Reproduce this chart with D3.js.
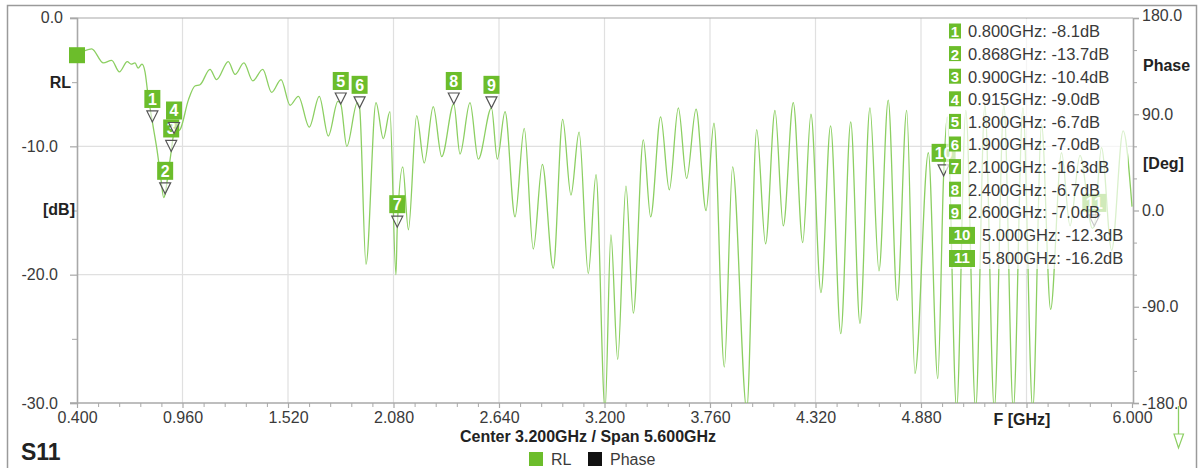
<!DOCTYPE html>
<html>
<head>
<meta charset="utf-8">
<script src="https://cdn.jsdelivr.net/npm/d3@7"></script>
<style>
  body { margin: 0; background: #fff; }
  svg text { font-family: "Liberation Sans", Arial, sans-serif; }
</style>
</head>
<body>
<svg id="chart" width="1200" height="468"></svg>
<script>
// S11 return-loss sweep, 0.4 - 6.0 GHz
const freqGHz = [
  0.400, 0.478, 0.540, 0.584, 0.625, 0.667, 0.687, 0.708, 0.724, 0.745,
  0.761, 0.777, 0.800, 0.825, 0.846, 0.860, 0.868, 0.883, 0.900, 0.915,
  0.947, 0.991, 1.026, 1.053, 1.106, 1.141, 1.203, 1.239, 1.286, 1.333,
  1.386, 1.433, 1.483, 1.531, 1.575, 1.633, 1.686, 1.734, 1.785, 1.800,
  1.832, 1.888, 1.900, 1.934, 1.987, 2.026, 2.061, 2.093, 2.100, 2.129,
  2.159, 2.203, 2.243, 2.291, 2.336, 2.400, 2.433, 2.486, 2.530, 2.600,
  2.631, 2.672, 2.725, 2.774, 2.822, 2.870, 2.928, 2.978, 3.022, 3.065,
  3.114, 3.155, 3.203, 3.234, 3.270, 3.314, 3.353, 3.406, 3.445, 3.498,
  3.544, 3.592, 3.636, 3.686, 3.739, 3.781, 3.836, 3.880, 3.955, 4.008,
  4.055, 4.105, 4.149, 4.202, 4.252, 4.296, 4.349, 4.400, 4.454, 4.507,
  4.556, 4.609, 4.657, 4.706, 4.754, 4.804, 4.848, 4.919, 4.969, 5.000,
  5.019, 5.069, 5.118, 5.170, 5.219, 5.269, 5.320, 5.370, 5.421, 5.473,
  5.520, 5.568, 5.626, 5.671, 5.724, 5.790, 5.800, 5.838, 5.892, 5.953,
  6.000
];
const rlDb = [
  -2.9, -2.4, -3.5, -3.3, -4.2, -3.4, -3.6, -3.5, -3.9, -3.6,
  -4.2, -6.0, -8.1, -10.3, -12.6, -14.0, -13.7, -12.2, -10.4, -9.0,
  -8.7, -6.4, -5.3, -5.2, -4.0, -4.8, -3.4, -4.4, -3.5, -4.9,
  -4.0, -5.8, -4.8, -6.8, -6.1, -8.5, -6.1, -9.2, -6.5, -6.7,
  -10.0, -6.6, -7.0, -19.2, -6.6, -9.4, -7.3, -20.0, -16.3, -11.6,
  -16.5, -7.6, -11.3, -6.9, -10.8, -6.7, -10.6, -6.6, -11.0, -7.0,
  -11.0, -7.3, -15.5, -8.6, -18.0, -11.4, -19.5, -7.9, -13.8, -8.9,
  -19.9, -12.2, -30.5, -16.9, -26.6, -13.1, -23.0, -9.5, -15.5, -7.7,
  -13.4, -7.0, -12.5, -7.1, -15.0, -8.2, -27.2, -11.6, -30.5, -8.7,
  -17.6, -7.2, -16.2, -6.6, -17.5, -7.5, -21.4, -8.4, -24.6, -8.1,
  -23.8, -7.0, -19.7, -6.4, -22.0, -7.2, -27.7, -10.5, -28.1, -12.3,
  -7.7, -30.5, -7.2, -30.5, -6.8, -30.5, -6.7, -30.5, -7.0, -30.5,
  -8.3, -22.7, -10.5, -16.2, -10.7, -16.4, -16.2, -10.1, -18.1, -8.8,
  -14.7
];

// Markers
const markerIds = [1, 2, 3, 4, 5, 6, 7, 8, 9, 10, 11];
const markerFreq = [0.800, 0.868, 0.900, 0.915, 1.800, 1.900, 2.100, 2.400, 2.600, 5.000, 5.800];
const markerDb = [-8.1, -13.7, -10.4, -9.0, -6.7, -7.0, -16.3, -6.7, -7.0, -12.3, -16.2];

// Axes
const xTicks = [0.400, 0.960, 1.520, 2.080, 2.640, 3.200, 3.760, 4.320, 4.880, 5.440, 6.000];
const xTickLabels = ["0.400", "0.960", "1.520", "2.080", "2.640", "3.200", "3.760", "4.320", "4.880", "", "6.000"];
const yTicks = [0, -10, -20, -30];
const phaseTicks = [180, 90, 0, -90, -180];
const seriesNames = ["RL", "Phase"];

const green = "#6cbd2b";
const traceColor = "#8ccf62";
const axisGray = "#a8a8a8";
const gridGray = "#e0e0e0";
const textGray = "#3a3a3a";

const svg = d3.select("#chart");

// frame
svg.append("rect").attr("x", 7.5).attr("y", 5.5).attr("width", 1189).attr("height", 480)
  .attr("fill", "none").attr("stroke", "#9a9a9a").attr("stroke-width", 1.5);

const pLeft = 77, pRight = 1133, pTop = 18, pBottom = 403;
const x = d3.scaleLinear().domain([0.4, 6.0]).range([pLeft, pRight - 1]);
const y = d3.scaleLinear().domain([-30, 0]).range([pBottom, pTop]);
const yPhase = d3.scaleLinear().domain([-180, 180]).range([pBottom, pTop]);

// grid
const grid = svg.append("g");
grid.selectAll("line.v").data(xTicks.slice(1, -1)).join("line")
  .attr("x1", d => x(d)).attr("x2", d => x(d)).attr("y1", pTop).attr("y2", pBottom)
  .attr("stroke", gridGray).attr("stroke-width", 1.2);
grid.selectAll("line.h").data([-10, -20]).join("line")
  .attr("x1", pLeft).attr("x2", pRight).attr("y1", d => y(d)).attr("y2", d => y(d))
  .attr("stroke", gridGray).attr("stroke-width", 1.2);
grid.append("line").attr("x1", 70).attr("x2", pRight).attr("y1", pTop).attr("y2", pTop)
  .attr("stroke", axisGray).attr("stroke-width", 1.2);

function styleAxis(g) {
  g.select(".domain").attr("stroke", axisGray).attr("stroke-width", 1.6);
  g.selectAll(".tick line").attr("stroke", axisGray).attr("stroke-width", 1.2);
  g.selectAll(".tick text").attr("fill", textGray).attr("font-size", 16);
}

// left axis (dB)
const gL = svg.append("g").attr("transform", `translate(${pLeft},0)`)
  .call(d3.axisLeft(y).tickValues(yTicks).tickFormat(d => d.toFixed(1)).tickSize(7).tickPadding(12));
styleAxis(gL);
gL.selectAll(".tick text").attr("dx", d => d === 0 ? 5 : 0).attr("dy", d => d === 0 ? "0.25em" : "0.32em");
svg.append("g").attr("transform", `translate(${pLeft},0)`)
  .call(d3.axisLeft(y).tickValues([-5, -15, -25]).tickFormat("").tickSize(5))
  .call(g => { g.select(".domain").remove(); g.selectAll("line").attr("stroke", axisGray); });

// right axis (phase)
const gR = svg.append("g").attr("transform", `translate(${pRight},0)`)
  .call(d3.axisRight(yPhase).tickValues(phaseTicks).tickFormat(d => d.toFixed(1)).tickSize(6).tickPadding(3));
styleAxis(gR);
gR.selectAll(".tick text").attr("dy", d => d === 180 ? "0.15em" : "0.32em");
svg.append("g").attr("transform", `translate(${pRight},0)`)
  .call(d3.axisRight(yPhase).tickValues([150, 120, 60, 30, -30, -60, -120, -150]).tickFormat("").tickSize(4))
  .call(g => { g.select(".domain").remove(); g.selectAll("line").attr("stroke", axisGray); });

// bottom axis (frequency)
const gB = svg.append("g").attr("transform", `translate(0,${pBottom})`)
  .call(d3.axisBottom(x).tickValues(xTicks).tickFormat((d, i) => xTickLabels[i]).tickSize(5).tickPadding(4));
styleAxis(gB);
gB.select(".domain").attr("d", `M${pLeft - 7},0H${pRight}`);
const minorX = d3.range(0, 50).map(i => 0.4 + 0.112 * i).filter(v => v < 6.0 && !xTicks.some(t => Math.abs(t - v) < 1e-6));
svg.append("g").attr("transform", `translate(0,${pBottom})`)
  .call(d3.axisBottom(x).tickValues(minorX).tickFormat("").tickSize(4))
  .call(g => { g.select(".domain").remove(); g.selectAll("line").attr("stroke", axisGray); });

// trace
svg.append("clipPath").attr("id", "plotClip").append("rect")
  .attr("x", pLeft).attr("y", pTop).attr("width", pRight - pLeft).attr("height", pBottom - pTop);
const traceData = freqGHz.map((f, i) => ({ f, db: rlDb[i] }));
const line = d3.line().x(d => x(d.f)).y(d => y(d.db)).curve(d3.curveMonotoneX);
svg.append("path").datum(traceData).attr("clip-path", "url(#plotClip)")
  .attr("d", line).attr("fill", "none").attr("stroke", traceColor).attr("stroke-width", 1.3);

// reference level handle
svg.append("rect").attr("x", pLeft - 8).attr("y", y(rlDb[0]) - 8).attr("width", 16).attr("height", 16).attr("fill", green);

// markers on the trace
const markers = markerIds.map((id, i) => ({ id, f: markerFreq[i], db: markerDb[i] }));
const mg = svg.append("g");
markers.forEach(m => {
  const cx = x(m.f), cy = y(m.db);
  const g = mg.append("g");
  g.append("path").attr("d", `M${cx - 5.5},${cy - 11}L${cx + 5.5},${cy - 11}L${cx},${cy}Z`)
    .attr("fill", "rgba(255,255,255,0.55)").attr("stroke", "#555").attr("stroke-width", 1.2);
  const w = m.id >= 10 ? 24 : 16;
  g.append("rect").attr("x", cx - w / 2).attr("y", cy - 32).attr("width", w).attr("height", 18).attr("fill", green);
  g.append("text").attr("x", cx).attr("y", cy - 23).attr("dy", "0.36em").attr("text-anchor", "middle")
    .attr("fill", "#fff").attr("font-weight", "bold").attr("font-size", 16).text(m.id);
});

// marker readout table
svg.append("rect").attr("x", 946).attr("y", 19).attr("width", 182).attr("height", 250)
  .attr("fill", "#fff").attr("fill-opacity", 0.68);
const tg = svg.append("g");
markers.forEach((m, i) => {
  const cy = i < 10 ? 31.5 + 22.6 * i : 258;
  const wide = m.id >= 10;
  const bx = 949, bw = wide ? 26 : 12;
  tg.append("rect").attr("x", bx).attr("y", cy - 8).attr("width", bw).attr("height", wide ? 17 : 15).attr("fill", green);
  tg.append("text").attr("x", bx + bw / 2).attr("y", cy).attr("dy", "0.36em").attr("text-anchor", "middle")
    .attr("fill", "#fff").attr("font-weight", "bold").attr("font-size", 15).text(m.id);
  tg.append("text").attr("x", wide ? 982 : 968).attr("y", cy).attr("dy", "0.36em")
    .attr("fill", textGray).attr("font-size", 16.5)
    .text(`${m.f.toFixed(3)}GHz: ${m.db.toFixed(1)}dB`);
});

// axis titles
const bold = (t, xx, yy, anchor, size) => svg.append("text").attr("x", xx).attr("y", yy).attr("dy", "0.35em")
  .attr("text-anchor", anchor).attr("font-weight", "bold").attr("font-size", size || 16).attr("fill", "#222").text(t);
bold("RL", 71, 82, "end");
bold("[dB]", 75, 209, "end");
bold("Phase", 1143, 65, "start");
bold("[Deg]", 1143, 163, "start");
bold("F [GHz]", 1022, 419, "middle");
bold("Center 3.200GHz / Span 5.600GHz", 588, 436, "middle");
bold("S11", 21, 452, "start", 23);

// phase reference indicator
svg.append("line").attr("x1", 1178.5).attr("x2", 1178.5).attr("y1", 406).attr("y2", 436)
  .attr("stroke", traceColor).attr("stroke-width", 1.3);
svg.append("path").attr("d", "M1174,434L1183.5,434L1178.5,448Z").attr("fill", "#fff")
  .attr("stroke", traceColor).attr("stroke-width", 1.2);

// series legend
const lg = svg.append("g");
seriesNames.forEach((name, i) => {
  const lx = i === 0 ? 529 : 588;
  lg.append("rect").attr("x", lx).attr("y", 452).attr("width", 14).attr("height", 14)
    .attr("fill", i === 0 ? green : "#111");
  lg.append("text").attr("x", lx + 22).attr("y", 459).attr("dy", "0.35em")
    .attr("font-size", 16).attr("fill", textGray).text(name);
});
</script>
</body>
</html>
